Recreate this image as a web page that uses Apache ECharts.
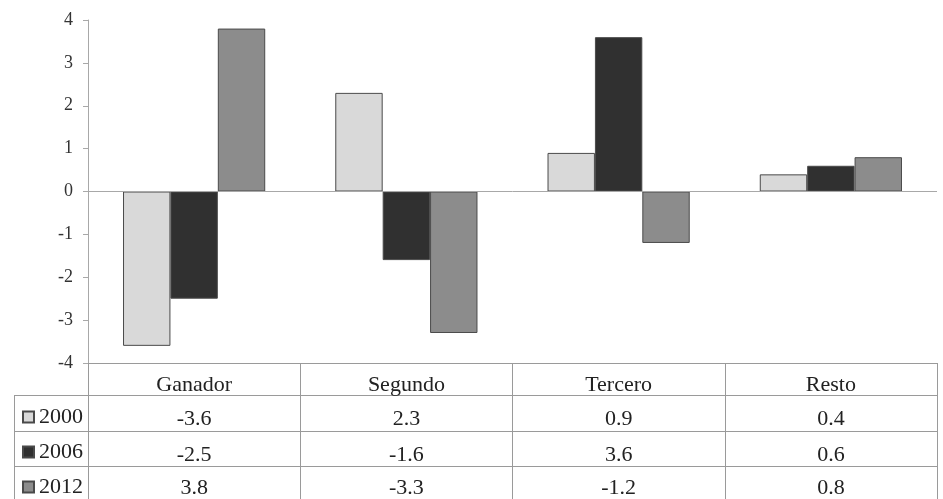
<!DOCTYPE html>
<html>
<head>
<meta charset="utf-8">
<script src="https://cdn.jsdelivr.net/npm/echarts@6/dist/echarts.min.js"></script>
<style>
html,body{margin:0;padding:0;background:#fff;}
#c{width:943px;height:499px;}
</style>
</head>
<body>
<div id="c"></div>
<script>
const categories = ['Ganador', 'Segundo', 'Tercero', 'Resto'];
const years = ['2000', '2006', '2012'];
const v2000 = [-3.6, 2.3, 0.9, 0.4];
const v2006 = [-2.5, -1.6, 3.6, 0.6];
const v2012 = [3.8, -3.3, -1.2, 0.8];
const yMin = -4, yMax = 4, yStep = 1;

const seriesValues = [v2000, v2006, v2012];
const colors = ['#d9d9d9', '#303030', '#8c8c8c'];

const FONT = 'Liberation Serif';
const LINE = '#9a9a9a';
const TXT = '#222';
const W = 943, H = 499;
const gridLeft = 88, gridRight = 6, gridTop = 20, gridBottom = 136;
const tableTop = H - gridBottom;           // header row top
const rowTops = [395, 431, 466];           // data row tops
const rowMargins = [13, 13, 11];
const tableLeft = 14;

const chart = echarts.init(document.getElementById('c'), null, {renderer: 'canvas'});

const rowAxes = seriesValues.map((vals, i) => ({
  type: 'category',
  gridIndex: 0,
  position: 'bottom',
  offset: rowTops[i] - tableTop,
  data: vals.map(v => v.toFixed(1)),
  axisLine: {show: true, onZero: false, lineStyle: {color: LINE, width: 1}},
  axisTick: {show: false},
  axisLabel: {interval: 0, margin: rowMargins[i], fontFamily: FONT, fontSize: 22, lineHeight: 22, color: TXT}
}));

const option = {
  animation: false,
  backgroundColor: '#fff',
  grid: {left: gridLeft, right: gridRight, top: gridTop, bottom: gridBottom, containLabel: false},
  legend: {
    orient: 'vertical',
    left: 22,
    top: 406,
    padding: 0,
    itemGap: 13,
    itemWidth: 11,
    itemHeight: 11,
    icon: 'rect',
    selectedMode: false,
    textStyle: {fontFamily: FONT, fontSize: 22, lineHeight: 22, color: TXT},
    data: years
  },
  xAxis: [{
    type: 'category',
    gridIndex: 0,
    position: 'bottom',
    data: categories,
    axisLine: {show: true, onZero: false, lineStyle: {color: LINE, width: 1}},
    axisTick: {show: true, interval: 0, length: gridBottom, lineStyle: {color: LINE, width: 1}},
    axisLabel: {interval: 0, margin: 11, fontFamily: FONT, fontSize: 22, lineHeight: 22, color: TXT},
    splitLine: {show: false}
  }].concat(rowAxes),
  yAxis: {
    type: 'value',
    min: yMin, max: yMax, interval: yStep,
    axisLine: {show: true, lineStyle: {color: '#a8a8a8', width: 1}},
    axisTick: {show: true, length: 5, lineStyle: {color: '#a8a8a8'}},
    axisLabel: {margin: 15, fontFamily: FONT, fontSize: 18, color: '#333'},
    splitLine: {show: false}
  },
  series: years.map((y, i) => ({
    name: y,
    type: 'bar',
    xAxisIndex: 0,
    yAxisIndex: 0,
    data: seriesValues[i],
    barGap: '0%',
    barCategoryGap: '33%',
    itemStyle: {color: colors[i], borderColor: '#4a4a4a', borderWidth: 1},
    markLine: i === 0 ? {
      silent: true,
      symbol: ['none', 'none'],
      label: {show: false},
      lineStyle: {color: '#a8a8a8', type: 'solid', width: 1},
      data: [{yAxis: 0}]
    } : undefined
  })),
  graphic: rowTops.map(t => ({
    type: 'line',
    shape: {x1: tableLeft, y1: t + 0.5, x2: gridLeft, y2: t + 0.5},
    style: {stroke: LINE, lineWidth: 1},
    silent: true
  })).concat([{
    type: 'line',
    shape: {x1: tableLeft + 0.5, y1: rowTops[0], x2: tableLeft + 0.5, y2: H},
    style: {stroke: LINE, lineWidth: 1},
    silent: true
  }])
};

chart.setOption(option);
</script>
</body>
</html>
